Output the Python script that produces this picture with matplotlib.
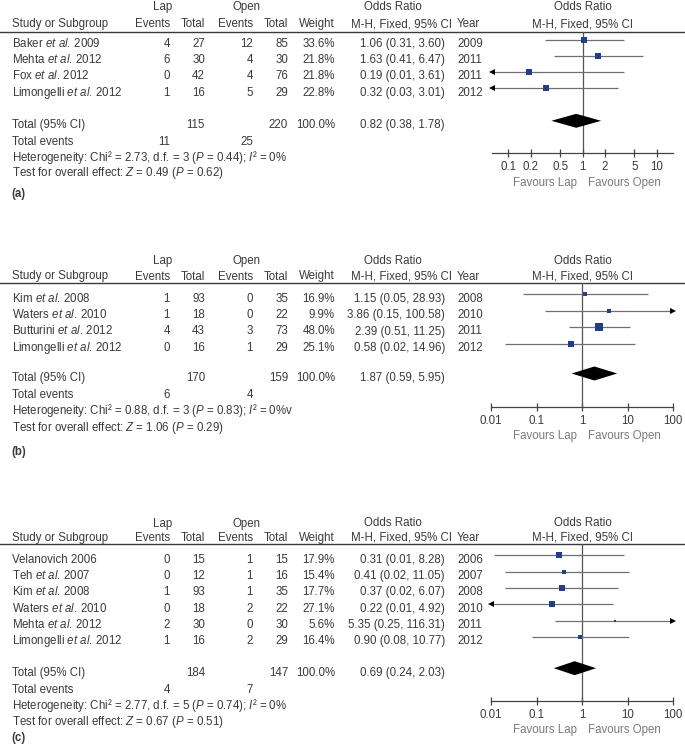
import matplotlib as mpl
mpl.use("Agg")
import matplotlib.pyplot as plt
import matplotlib.transforms as mtransforms
from matplotlib.ticker import FixedLocator, FixedFormatter, NullLocator
import numpy as np

plt.rcParams['font.family'] = ['Liberation Sans', 'DejaVu Sans']
plt.rcParams['mathtext.fontset'] = 'custom'
plt.rcParams['mathtext.rm'] = 'Liberation Sans'
plt.rcParams['mathtext.it'] = 'Liberation Sans:italic'
plt.rcParams['mathtext.bf'] = 'Liberation Sans:bold'

# ---- data: panel (a)
study_a = ["Baker et al. 2009", "Mehta et al. 2012", "Fox et al. 2012", "Limongelli et al. 2012"]
lap_ev_a = [4, 6, 0, 1]
lap_tot_a = [27, 30, 42, 16]
open_ev_a = [12, 4, 4, 5]
open_tot_a = [85, 30, 76, 29]
weight_a = [33.6, 21.8, 21.8, 22.8]
or_a = [1.06, 1.63, 0.19, 0.32]
lo_a = [0.31, 0.41, 0.01, 0.03]
hi_a = [3.60, 6.47, 3.61, 3.01]
year_a = [2009, 2011, 2011, 2012]
pooled_a = (0.82, 0.38, 1.78)
het_a = "Heterogeneity: Chi² = 2.73, d.f. = 3 ($\\mathit{P}$ = 0.44); $\\mathit{I}$² = 0%"
test_a = "Test for overall effect: $\\mathit{Z}$ = 0.49 ($\\mathit{P}$ = 0.62)"
ticks_a = [0.1, 0.2, 0.5, 1, 2, 5, 10]
ticklabels_a = ["0.1", "0.2", "0.5", "1", "2", "5", "10"]

# ---- data: panel (b)
study_b = ["Kim et al. 2008", "Waters et al. 2010", "Butturini et al. 2012", "Limongelli et al. 2012"]
lap_ev_b = [1, 1, 4, 0]
lap_tot_b = [93, 18, 43, 16]
open_ev_b = [0, 0, 3, 1]
open_tot_b = [35, 22, 73, 29]
weight_b = [16.9, 9.9, 48.0, 25.1]
or_b = [1.15, 3.86, 2.39, 0.58]
lo_b = [0.05, 0.15, 0.51, 0.02]
hi_b = [28.93, 100.58, 11.25, 14.96]
year_b = [2008, 2010, 2011, 2012]
pooled_b = (1.87, 0.59, 5.95)
het_b = "Heterogeneity: Chi² = 0.88, d.f. = 3 ($\\mathit{P}$ = 0.83); $\\mathit{I}$² = 0%v"
test_b = "Test for overall effect: $\\mathit{Z}$ = 1.06 ($\\mathit{P}$ = 0.29)"
ticks_b = [0.01, 0.1, 1, 10, 100]
ticklabels_b = ["0.01", "0.1", "1", "10", "100"]

# ---- data: panel (c)
study_c = ["Velanovich 2006", "Teh et al. 2007", "Kim et al. 2008", "Waters et al. 2010",
           "Mehta et al. 2012", "Limongelli et al. 2012"]
lap_ev_c = [0, 0, 1, 0, 2, 1]
lap_tot_c = [15, 12, 93, 18, 30, 16]
open_ev_c = [1, 1, 1, 2, 0, 2]
open_tot_c = [15, 16, 35, 22, 30, 29]
weight_c = [17.9, 15.4, 17.7, 27.1, 5.6, 16.4]
or_c = [0.31, 0.41, 0.37, 0.22, 5.35, 0.90]
lo_c = [0.0117, 0.02, 0.02, 0.0099, 0.25, 0.08]
hi_c = [8.28, 11.05, 6.07, 4.92, 116.31, 10.77]
year_c = [2006, 2007, 2008, 2010, 2011, 2012]
pooled_c = (0.69, 0.24, 2.03)
het_c = "Heterogeneity: Chi² = 2.77, d.f. = 5 ($\\mathit{P}$ = 0.74); $\\mathit{I}$² = 0%"
test_c = "Test for overall effect: $\\mathit{Z}$ = 0.67 ($\\mathit{P}$ = 0.51)"

W, H = 685, 747
FS = 8.3
TXT = '#3a3a3a'
GREY = '#707070'
BLUE = '#233e8b'

fig = plt.figure(figsize=(W / 100, H / 100), dpi=100)
fig.patch.set_facecolor('white')
base = fig.add_axes([0, 0, 1, 1])
base.set_xlim(0, W)
base.set_ylim(H, 0)
base.axis('off')

# column positions (px)
X_STUDY, X_LAP_EV, X_LAP_TOT, X_OPEN_EV, X_OPEN_TOT, X_W = 12, 170, 205, 253, 288, 335
X_OR, X_YEAR = 445, 457


def put(x, y, s, ha='left', **kw):
    kw.setdefault('color', TXT)
    kw.setdefault('fontsize', FS)
    base.text(x, y, s, ha=ha, va='baseline', **kw)


def panel(p):
    # headers
    put(163, p['h1'], "Lap", ha='center')
    put(247, p['h1'], "Open", ha='center')
    put(393, p['h1'], "Odds Ratio", ha='center')
    put(583, p['h1'], "Odds Ratio", ha='center')
    put(X_STUDY, p['h2'], "Study or Subgroup")
    put(X_LAP_EV, p['h2'], "Events", ha='right')
    put(X_LAP_TOT, p['h2'], "Total", ha='right')
    put(X_OPEN_EV, p['h2'], "Events", ha='right')
    put(X_OPEN_TOT, p['h2'], "Total", ha='right')
    put(X_W, p['h2'], "Weight", ha='right')
    put(402, p['h2'], "M-H, Fixed, 95% CI", ha='center')
    put(X_YEAR, p['h2'], "Year")
    put(583, p['h2'], "M-H, Fixed, 95% CI", ha='center')
    base.axhline(p['rule'], color='#3a3a3a', lw=1.0)

    # forest axes
    x0, x1 = p['fx']
    ax = fig.add_axes([x0 / W, 1 - p['axis'] / H, (x1 - x0) / W, (p['axis'] - p['rule']) / H])
    ax.set_xscale('log')
    ax.set_xlim(*p['xlim'])
    ax.set_ylim(p['axis'], p['rule'])
    ax.patch.set_alpha(0)
    for s in ['top', 'left', 'right']:
        ax.spines[s].set_visible(False)
    ax.spines['bottom'].set_color('#444444')
    ax.spines['bottom'].set_linewidth(0.9)
    ax.set_yticks([])
    ax.xaxis.set_major_locator(FixedLocator(p['ticks']))
    ax.xaxis.set_major_formatter(FixedFormatter(p['ticklabels']))
    ax.xaxis.set_minor_locator(NullLocator())
    ax.tick_params(axis='x', direction='inout', length=5.5, width=0.9, pad=3.0,
                   labelsize=FS, color='#444444', labelcolor=TXT)
    ax.axvline(1, color='#555555', lw=0.9)

    n = len(p['study'])
    for i in range(n):
        yb = p['row0'] + i * p['step']
        label = p['study'][i].replace("et al.", r"$\mathit{et\ al.}\!$")
        put(X_STUDY, yb, label)
        put(X_LAP_EV, yb, str(p['lap_ev'][i]), ha='right')
        put(X_LAP_TOT, yb, str(p['lap_tot'][i]), ha='right')
        put(X_OPEN_EV, yb, str(p['open_ev'][i]), ha='right')
        put(X_OPEN_TOT, yb, str(p['open_tot'][i]), ha='right')
        put(X_W, yb, f"{p['weight'][i]:.1f}%", ha='right')
        put(X_OR, yb, f"{p['or'][i]:.2f} ({p['lo'][i]:.2f}, {p['hi'][i]:.2f})", ha='right')
        put(X_YEAR, yb, str(p['year'][i]))

        ym = yb - 7.3
        ax.plot([p['lo'][i], p['hi'][i]], [ym, ym], color=GREY, lw=0.9, solid_capstyle='butt')
        if p['lo'][i] < p['xlim'][0]:
            ax.plot(p['xlim'][0], ym, marker='<', ms=4, color='black', mew=0, clip_on=False)
        if p['hi'][i] > p['xlim'][1]:
            ax.plot(p['xlim'][1], ym, marker='>', ms=4, color='black', mew=0, clip_on=False)
        ax.plot(p['or'][i], ym, marker='s', ms=0.86 * np.sqrt(p['weight'][i]),
                color=BLUE, mew=0, zorder=3)

    # totals
    yt = p['total']
    put(X_STUDY, yt, "Total (95% CI)")
    put(X_LAP_TOT, yt, str(sum(p['lap_tot'])), ha='right')
    put(X_OPEN_TOT, yt, str(sum(p['open_tot'])), ha='right')
    put(X_W, yt, "100.0%", ha='right')
    po, pl, ph = p['pooled']
    put(X_OR, yt, f"{po:.2f} ({pl:.2f}, {ph:.2f})", ha='right')
    yd = yt - 7.5
    ax.fill([pl, po, ph, po], [yd, yd - 7, yd, yd + 7], color='black', lw=0, zorder=3)

    put(X_STUDY, p['tev'], "Total events")
    put(X_LAP_EV, p['tev'], str(sum(p['lap_ev'])), ha='right')
    put(X_OPEN_EV, p['tev'], str(sum(p['open_ev'])), ha='right')
    put(X_STUDY, p['het'], p['het_txt'])
    put(X_STUDY, p['test'], p['test_txt'])
    put(11, p['label'], p['label_txt'], fontweight='bold')

    blend = mtransforms.blended_transform_factory(ax.transData, base.transData)
    ax.annotate("Favours Lap", xy=(1, p['fav']), xycoords=blend, xytext=(-3.8, 0),
                textcoords='offset points', ha='right', va='baseline', fontsize=FS,
                color='#7a7a7a', annotation_clip=False)
    ax.annotate("Favours Open", xy=(1, p['fav']), xycoords=blend, xytext=(4.2, 0),
                textcoords='offset points', ha='left', va='baseline', fontsize=FS,
                color='#7a7a7a', annotation_clip=False)


panels = [
    dict(study=study_a, lap_ev=lap_ev_a, lap_tot=lap_tot_a, open_ev=open_ev_a, open_tot=open_tot_a,
         weight=weight_a, odds=or_a, lo=lo_a, hi=hi_a, year=year_a, pooled=pooled_a,
         het_txt=het_a, test_txt=test_a,
         ticks=ticks_a, ticklabels=ticklabels_a, xlim=(0.06, 16.6), fx=(492, 673),
         h1=10.3, h2=27.3, rule=31.5, row0=47.0, step=16.2, total=128.3, tev=145, het=160.5,
         test=176, axis=153.3, fav=186, label=197, label_txt="(a)"),
    dict(study=study_b, lap_ev=lap_ev_b, lap_tot=lap_tot_b, open_ev=open_ev_b, open_tot=open_tot_b,
         weight=weight_b, odds=or_b, lo=lo_b, hi=hi_b, year=year_b, pooled=pooled_b,
         het_txt=het_b, test_txt=test_b,
         ticks=ticks_b, ticklabels=ticklabels_b, xlim=(0.01, 100), fx=(491, 673),
         h1=264, h2=279.5, rule=282.7, row0=301.7, step=16.4, total=381, tev=398.3, het=414,
         test=431, axis=406.7, fav=439, label=455, label_txt="(b)"),
    dict(study=study_c, lap_ev=lap_ev_c, lap_tot=lap_tot_c, open_ev=open_ev_c, open_tot=open_tot_c,
         weight=weight_c, odds=or_c, lo=lo_c, hi=hi_c, year=year_c, pooled=pooled_c,
         het_txt=het_c, test_txt=test_c,
         ticks=ticks_b, ticklabels=ticklabels_b, xlim=(0.01, 100), fx=(491, 673),
         h1=526.5, h2=540.7, rule=544.2, row0=562.7, step=16.3, total=675.7, tev=693.3, het=709,
         test=724.5, axis=700.7, fav=732.5, label=741, label_txt="(c)"),
]
for p in panels:
    p['or'] = p['odds']
    panel(p)

fig.savefig("out.png", dpi=100)
